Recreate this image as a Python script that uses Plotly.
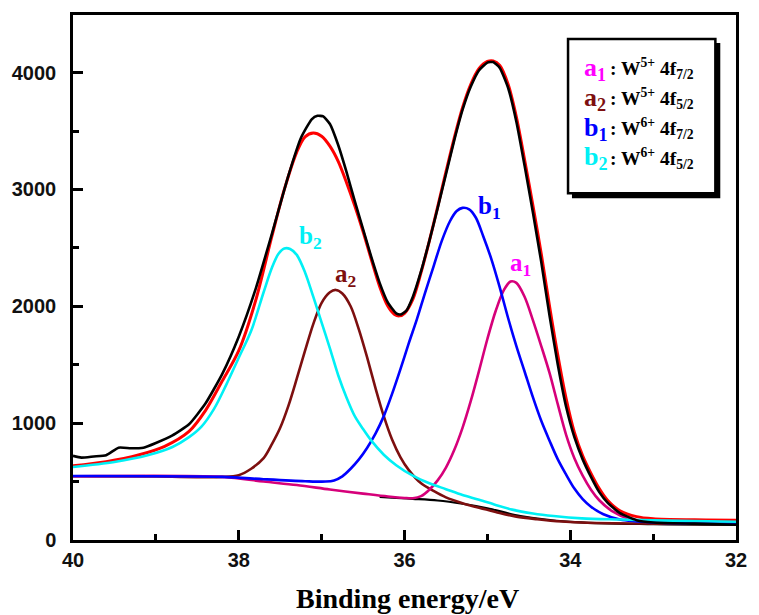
import plotly.graph_objects as go

# ---- W 4f XPS spectrum: binding energy (eV) vs intensity (counts) ----
# measured spectrum
exp_be = [40.0, 39.9, 39.75, 39.6, 39.45, 39.3, 39.15, 39.0, 38.8, 38.6, 38.4, 38.2, 38.0,
          37.8, 37.6, 37.4, 37.25, 37.12, 37.05, 36.98, 36.9, 36.8, 36.7, 36.6, 36.5, 36.4,
          36.3, 36.2, 36.1, 36.05, 35.98, 35.9, 35.8, 35.7, 35.6, 35.5, 35.4, 35.3, 35.2,
          35.1, 35.0, 34.93, 34.85, 34.75, 34.65, 34.55, 34.45, 34.35, 34.25, 34.15, 34.05,
          33.95, 33.85, 33.75, 33.65, 33.55, 33.4, 33.2, 33.0, 32.5, 32.0]
exp_cps = [720, 705, 715, 725, 790, 785, 790, 830, 895, 990, 1170, 1420, 1740,
           2140, 2620, 3120, 3440, 3600, 3630, 3625, 3560, 3380, 3150, 2900, 2660, 2420,
           2200, 2030, 1940, 1930, 1960, 2080, 2300, 2560, 2840, 3130, 3420, 3680, 3880,
           4020, 4085, 4090, 4040, 3870, 3580, 3200, 2800, 2380, 1920, 1500, 1140,
           880, 690, 540, 410, 320, 230, 170, 150, 140, 130]

# fitted envelope
fit_be = [40.0, 39.6, 39.2, 38.9, 38.6, 38.4, 38.2, 38.0, 37.8, 37.6, 37.45, 37.3, 37.2,
          37.1, 37.0, 36.9, 36.8, 36.7, 36.6, 36.5, 36.4, 36.3, 36.2, 36.12, 36.06, 36.0,
          35.9, 35.8, 35.7, 35.6, 35.5, 35.4, 35.3, 35.2, 35.1, 35.0, 34.93, 34.85, 34.75,
          34.65, 34.55, 34.45, 34.35, 34.25, 34.15, 34.05, 33.95, 33.85, 33.75, 33.65,
          33.55, 33.4, 33.2, 33.0, 32.5, 32.0]
fit_cps = [635, 670, 730, 800, 930, 1110, 1360, 1620, 2040, 2600, 3000, 3320, 3450,
           3482, 3455, 3370, 3240, 3060, 2860, 2640, 2400, 2170, 2000, 1930, 1918, 1940,
           2060, 2290, 2560, 2850, 3150, 3440, 3700, 3900, 4035, 4095, 4100, 4060, 3900,
           3620, 3250, 2860, 2450, 2000, 1580, 1210, 920, 720, 570, 440,
           340, 250, 200, 182, 173, 170]

# Shirley background (right-hand part, where it is not hidden by the components)
bg_be = [36.3, 36.1, 35.9, 35.6, 35.3, 35.0, 34.6, 34.0, 33.0, 32.0]
bg_cps = [368, 360, 352, 338, 310, 272, 205, 155, 135, 130]

# a1 : W5+ 4f7/2
a1_be = [40.0, 38.2, 37.7, 37.3, 36.9, 36.5, 36.2, 36.0, 35.9, 35.8, 35.7, 35.6, 35.5,
         35.4, 35.3, 35.2, 35.1, 35.0, 34.9, 34.8, 34.72, 34.65, 34.55, 34.45, 34.35,
         34.25, 34.15, 34.05, 33.95, 33.85, 33.75, 33.65, 33.5, 33.3, 33.0, 32.0]
a1_cps = [545, 540, 500, 470, 432, 397, 372, 360, 358, 375, 430, 510, 620,
          770, 960, 1190, 1450, 1720, 1960, 2140, 2212, 2200, 2080, 1880, 1660,
          1430, 1160, 900, 700, 550, 430, 340, 250, 185, 155, 142]

# a2 : W5+ 4f5/2
a2_be = [40.0, 39.0, 38.2, 38.0, 37.85, 37.7, 37.6, 37.5, 37.4, 37.3, 37.2, 37.1, 37.0,
         36.9, 36.83, 36.75, 36.65, 36.55, 36.45, 36.35, 36.25, 36.15, 36.05, 35.95, 35.8,
         35.65, 35.5, 35.3, 35.1, 34.9, 34.65, 34.4, 34.1, 33.8, 33.0, 32.0]
a2_cps = [545, 543, 540, 555, 610, 700, 820, 960, 1150, 1380, 1620, 1850, 2030,
          2120, 2140, 2110, 2000, 1800, 1560, 1300, 1060, 860, 710, 600, 485,
          420, 365, 315, 275, 240, 200, 178, 158, 147, 140, 136]

# b1 : W6+ 4f7/2
b1_be = [40.0, 38.2, 37.7, 37.2, 36.95, 36.85, 36.75, 36.65, 36.55, 36.45, 36.35, 36.25,
         36.15, 36.05, 35.95, 35.85, 35.75, 35.65, 35.55, 35.45, 35.37, 35.3, 35.22, 35.14,
         35.05, 34.95, 34.85, 34.75, 34.65, 34.55, 34.45, 34.35, 34.25, 34.15, 34.05,
         33.95, 33.85, 33.75, 33.6, 33.4, 33.0, 32.0]
b1_cps = [548, 540, 520, 503, 500, 510, 545, 610, 690, 790, 910, 1060,
          1250, 1460, 1680, 1890, 2120, 2340, 2560, 2730, 2815, 2842, 2830, 2760,
          2600, 2400, 2160, 1900, 1660, 1440, 1220, 1020, 850, 690, 560,
          440, 350, 285, 220, 175, 150, 140]

# b2 : W6+ 4f5/2
b2_be = [40.0, 39.5, 39.1, 38.8, 38.6, 38.45, 38.3, 38.15, 38.0, 37.85, 37.7, 37.6, 37.52,
         37.45, 37.38, 37.3, 37.2, 37.1, 37.0, 36.9, 36.8, 36.7, 36.6, 36.5, 36.4, 36.25,
         36.1, 35.9, 35.7, 35.5, 35.3, 35.1, 34.9, 34.7, 34.45, 34.2, 33.86, 33.4, 33.0,
         32.0]
b2_cps = [625, 668, 725, 796, 880, 970, 1120, 1330, 1560, 1790, 2120, 2330, 2450,
          2495, 2490, 2440, 2290, 2080, 1860, 1640, 1410, 1220, 1060, 950, 850, 730,
          640, 550, 485, 435, 385, 345, 300, 260, 227, 205, 185, 175, 168,
          156]

# axis ticks
x_ticks = [40, 38, 36, 34, 32]
y_ticks = [0, 1000, 2000, 3000, 4000]

C_A1_LINE = "#d6007a"
C_A1_TEXT = "#ff00ff"
C_A2 = "#7d0f0f"
C_B1 = "#0000ff"
C_B2 = "#00f0f5"
C_FIT = "#ff0000"

LW = 2.6
SERIF = "Liberation Serif"
SANS = "Liberation Sans"

fig = go.Figure()


def add_curve(xs, ys, color, width=LW, smooth=0.9):
    fig.add_trace(go.Scatter(
        x=xs, y=ys, mode="lines",
        line=dict(color=color, width=width, shape="spline", smoothing=smooth),
        showlegend=False, hoverinfo="skip"))


add_curve(bg_be, bg_cps, "#000000", 2.2)
add_curve(fit_be, fit_cps, C_FIT, 3.0)
add_curve(a2_be, a2_cps, C_A2)
add_curve(a1_be, a1_cps, C_A1_LINE)
add_curve(b1_be, b1_cps, C_B1)
add_curve(b2_be, b2_cps, C_B2)
add_curve(exp_be, exp_cps, "#000000", LW, 0.5)

# plot-area geometry in pixels (used for placing boxes / text)
L, R, T, B = 69, 744, 13, 540
PW, PH = R - L, B - T


def px(xp):
    return (xp - L) / PW


def py(yp):
    return (B - yp) / PH


def label(txt, col, xx, yy, size, anchor="left"):
    fig.add_annotation(
        x=px(xx), y=py(yy), xref="paper", yref="paper",
        xanchor=anchor, yanchor="middle", showarrow=False, text=txt,
        font=dict(family=SERIF, size=size, color=col, weight="bold"))


# peak labels
peak_labels = [
    ("b<sub>2</sub>", C_B2, 297, 236),
    ("a<sub>2</sub>", C_A2, 334, 274),
    ("b<sub>1</sub>", C_B1, 479, 206),
    ("a<sub>1</sub>", C_A1_TEXT, 512, 263),
]
for txt, col, xx, yy in peak_labels:
    label(txt, col, xx, yy, 25)

# legend box with drop shadow
fig.add_shape(type="rect", xref="paper", yref="paper",
              x0=px(577), x1=px(728), y0=py(197), y1=py(41),
              fillcolor="#000000", line=dict(width=0), layer="above")
fig.add_shape(type="rect", xref="paper", yref="paper",
              x0=px(573), x1=px(723), y0=py(192), y1=py(37),
              fillcolor="#ffffff", line=dict(color="#000000", width=2.5), layer="above")

legend_rows = [
    ("a", "1", C_A1_TEXT, "5+", "7/2", 67),
    ("a", "2", C_A2, "5+", "5/2", 97),
    ("b", "1", C_B1, "6+", "7/2", 127),
    ("b", "2", C_B2, "6+", "5/2", 157),
]
for letter, idx, col, ox, lvl, yy in legend_rows:
    label(f"{letter}<sub>{idx}</sub>", col, 587, yy, 26)
    label(f": W<sup>{ox}</sup> 4f<sub>{lvl}</sub>", "#000000", 614, yy, 19.5)

# x-axis title
label("Binding energy/eV", "#000000", 410, 599, 28, anchor="center")

axis_common = dict(
    showgrid=False, zeroline=False,
    showline=True, linecolor="#000000", linewidth=2.5, mirror=True,
    ticks="inside", ticklen=10, tickwidth=2.5, tickcolor="#000000",
    tickfont=dict(family=SANS, size=20, color="#111111", weight="bold"),
)

fig.update_xaxes(
    range=[40, 32], tickvals=x_ticks, ticktext=[str(v) for v in x_ticks],
    minor=dict(ticks="inside", ticklen=6, tickwidth=2.5, tickcolor="#000000", dtick=1),
    **axis_common)
fig.update_yaxes(
    range=[0, (B - T) / 0.1173], tickvals=y_ticks, ticktext=[str(v) for v in y_ticks],
    minor=dict(ticks="inside", ticklen=6, tickwidth=2.5, tickcolor="#000000", dtick=500),
    ticklabelstandoff=10,
    **axis_common)

fig.update_layout(
    width=759, height=615,
    margin=dict(l=L, r=759 - R, t=T, b=615 - B),
    paper_bgcolor="#ffffff", plot_bgcolor="#ffffff",
    showlegend=False,
)

fig.write_html("out.html")
